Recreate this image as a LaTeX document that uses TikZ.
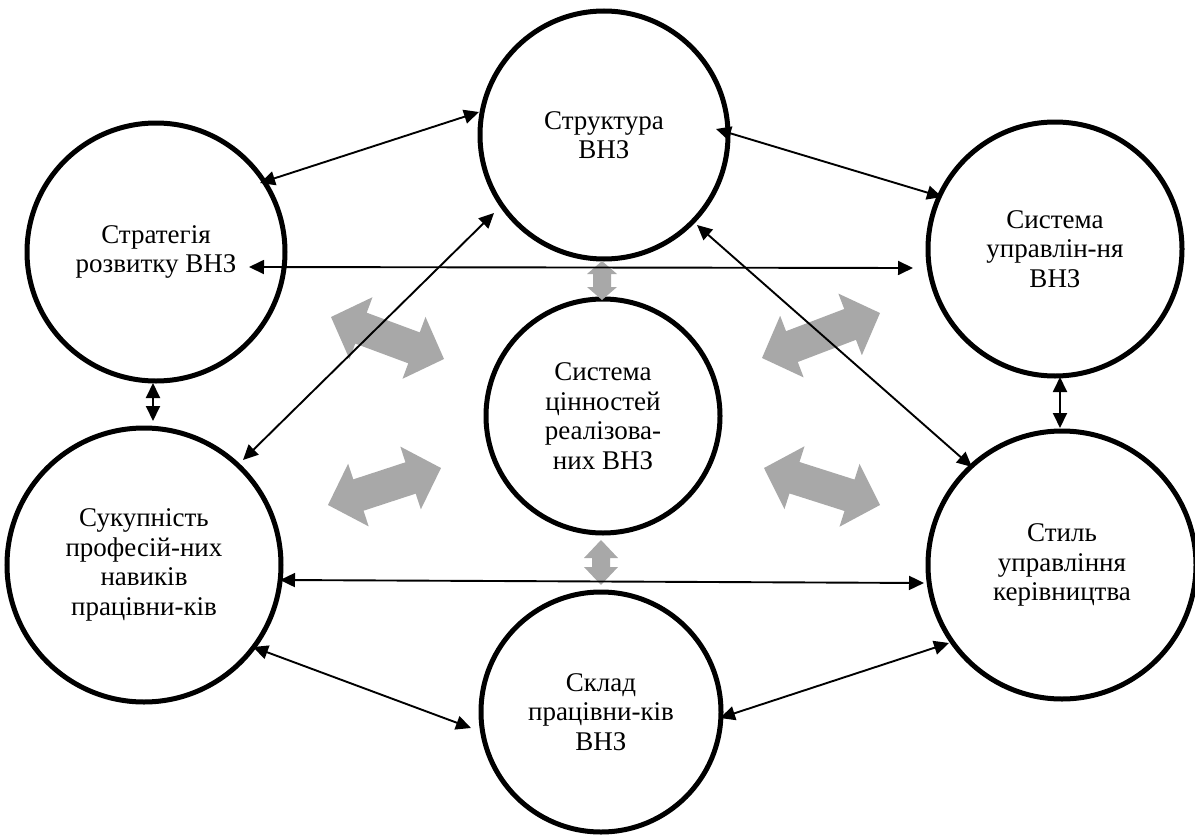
\documentclass[tikz,border=0pt]{standalone}
\usepackage{fontspec}
\setmainfont{Liberation Serif}
\usetikzlibrary{arrows.meta,calc}
\definecolor{grayfill}{RGB}{168,168,168}
\newcommand\grayarrow[5]{%
  \coordinate (ga-h1) at ($(#1)!#3!(#2)$);
  \coordinate (ga-h2) at ($(#2)!#3!(#1)$);
  \fill[grayfill] (#1) -- ($(ga-h1)!#4!90:(#1)$) -- ($(ga-h1)!#5!90:(#1)$)
    -- ($(ga-h2)!#5!-90:(#2)$) -- ($(ga-h2)!#4!-90:(#2)$) -- (#2)
    -- ($(ga-h2)!#4!90:(#2)$) -- ($(ga-h2)!#5!90:(#2)$)
    -- ($(ga-h1)!#5!-90:(#1)$) -- ($(ga-h1)!#4!-90:(#1)$) -- cycle;}
\begin{document}
\begin{tikzpicture}[x=1pt,y=-1pt,
  circ/.style={circle,draw,line width=5pt,inner sep=0pt,align=center,
    font=\fontsize{27}{29.5}\selectfont},
  link/.style={line width=1.9pt,{Triangle[length=15pt,width=14pt]}-{Triangle[length=15pt,width=14pt]}}]
\useasboundingbox (0,0) rectangle (1195,835);
% circles
\node[circ,minimum size=258pt] (strat) at (156,252) {Стратегія\\розвитку ВНЗ};
\node[circ,minimum size=248pt] (struct) at (604,135) {Структура\\ВНЗ};
\node[circ,minimum size=254pt] (sysupr) at (1055,249) {Система\\управлін-ня\\ВНЗ};
\node[circ,minimum size=234pt] (values) at (603,416) {Система\\цінностей\\реалізова-\\них ВНЗ};
\node[circ,minimum size=274pt] (sukup) at (144,565) {Сукупність\\професій-них\\навиків\\працівни-ків};
\node[circ,minimum size=268pt] (styl) at (1062,565) {Стиль\\управління\\керівництва};
\node[circ,minimum size=240pt] (sklad) at (601,712) {Склад\\працівни-ків\\ВНЗ};
% gray arrows
\coordinate (gA1) at (331,317); \coordinate (gA2) at (444,359);
\coordinate (gB1) at (328,505); \coordinate (gB2) at (441,468);
\coordinate (gC1) at (762,358); \coordinate (gC2) at (880,313);
\coordinate (gD1) at (764,468); \coordinate (gD2) at (880,505);
\coordinate (gT1) at (602,261); \coordinate (gT2) at (602,300);
\coordinate (gU1) at (601,540); \coordinate (gU2) at (601,585);
\grayarrow{gA1}{gA2}{32pt}{33pt}{16.5pt}
\grayarrow{gB1}{gB2}{32pt}{33pt}{16.5pt}
\grayarrow{gC1}{gC2}{32pt}{33pt}{16.5pt}
\grayarrow{gD1}{gD2}{32pt}{33pt}{16.5pt}
\grayarrow{gT1}{gT2}{13pt}{15pt}{9pt}
\grayarrow{gU1}{gU2}{18pt}{17pt}{9pt}
% thin arrows
\coordinate (a1) at (260,183); \coordinate (b1) at (479,112);
\coordinate (a2) at (716,129); \coordinate (b2) at (942,197);
\coordinate (a3) at (249,267); \coordinate (b3) at (913,268);
\coordinate (a4) at (153,383); \coordinate (b4) at (153,421);
\coordinate (a5) at (243,460); \coordinate (b5) at (494,213);
\coordinate (a6) at (697,225); \coordinate (b6) at (972,467);
\coordinate (a7) at (1060,377); \coordinate (b7) at (1060,428);
\coordinate (a8) at (280,580); \coordinate (b8) at (924,583);
\coordinate (a9) at (253,647); \coordinate (b9) at (471,728);
\coordinate (a10) at (720,718); \coordinate (b10) at (949,643);
\foreach \i in {1,...,10} {\draw[link] (a\i) -- (b\i);}
\end{tikzpicture}
\end{document}
